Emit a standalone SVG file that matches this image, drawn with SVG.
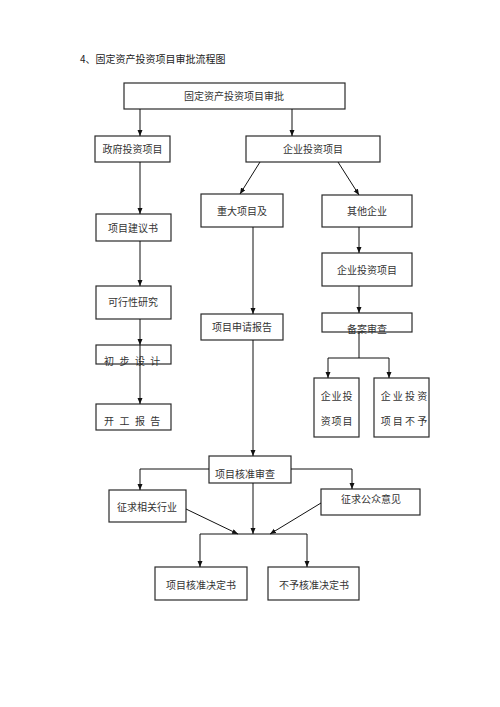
<svg xmlns="http://www.w3.org/2000/svg" width="500" height="707" viewBox="0 0 500 707">
<style>
.bg{fill:#ffffff}
.box{fill:#ffffff;stroke:#2a2a2a;stroke-width:1.2}
.t{font-family:"Noto Sans CJK SC","Liberation Sans",sans-serif;font-size:10px;fill:#333333;text-anchor:middle}
.title{font-family:"Noto Sans CJK SC","Liberation Sans",sans-serif;font-size:10px;fill:#222222}
.c{fill:none;stroke:#111111;stroke-width:1}
.a{fill:none;stroke:#111111;stroke-width:1;marker-end:url(#ah)}
</style>
<defs>
<marker id="ah" markerUnits="userSpaceOnUse" markerWidth="7" markerHeight="6" refX="6" refY="2.5" orient="auto">
<path d="M0,0 L6,2.5 L0,5 z" fill="#111111"/>
</marker>
</defs>
<rect class="bg" x="0" y="0" width="500" height="707"/>
<text class="title" x="80" y="62.5">4、固定资产投资项目审批流程图</text>

<g id="n-top"><rect class="box" x="124" y="83" width="221" height="26"/><text class="t" x="234" y="99.5">固定资产投资项目审批</text></g>
<g id="n-gov"><rect class="box" x="95" y="136" width="75" height="26"/><text class="t" x="132.5" y="152.5">政府投资项目</text></g>
<g id="n-ent"><rect class="box" x="246" y="136" width="134" height="26"/><text class="t" x="313" y="152.5">企业投资项目</text></g>
<g id="n-major"><rect class="box" x="201" y="194" width="82" height="33"/><text class="t" x="242" y="214.5">重大项目及</text></g>
<g id="n-other"><rect class="box" x="322" y="195" width="90" height="32"/><text class="t" x="367" y="214.5">其他企业</text></g>
<g id="n-proposal"><rect class="box" x="96" y="214" width="75" height="27"/><text class="t" x="133" y="231.5">项目建议书</text></g>
<g id="n-feas"><rect class="box" x="96" y="286" width="75" height="33"/><text class="t" x="133" y="306">可行性研究</text></g>
<g id="n-prelim"><rect class="box" x="96" y="345" width="75" height="19"/><text class="t" x="133" y="365" style="letter-spacing:1.6px">初 步 设 计</text></g>
<g id="n-start"><rect class="box" x="96" y="404" width="75" height="26"/><text class="t" x="133" y="424.5" style="letter-spacing:1.6px">开 工 报 告</text></g>
<g id="n-apply"><rect class="box" x="201" y="314" width="82" height="26"/><text class="t" x="242" y="330.5">项目申请报告</text></g>
<g id="n-ent2"><rect class="box" x="322" y="253" width="90" height="33"/><text class="t" x="367" y="273.5">企业投资项目</text></g>
<g id="n-record"><rect class="box" x="322" y="313" width="90" height="19"/><text class="t" x="367" y="333">备案审查</text></g>
<g id="n-entok"><rect class="box" x="314" y="378" width="45" height="59"/><text class="t" x="337" y="399.5" style="letter-spacing:0.8px">企业投</text><text class="t" x="337" y="424.5" style="letter-spacing:0.8px">资项目</text></g>
<g id="n-entno"><rect class="box" x="374" y="378" width="55" height="59"/><text class="t" x="404" y="399.5">企 业 投 资</text><text class="t" x="404" y="424.5">项 目 不 予</text></g>
<g id="n-review"><rect class="box" x="209" y="456" width="82" height="27"/><text class="t" x="245" y="477.5">项目核准审查</text></g>
<g id="n-industry"><rect class="box" x="109" y="490" width="77" height="32"/><text class="t" x="147" y="510.5">征求相关行业</text></g>
<g id="n-public"><rect class="box" x="321" y="489" width="99" height="26"/><text class="t" x="371" y="502.5">征求公众意见</text></g>
<g id="n-approve"><rect class="box" x="155" y="567" width="92" height="33"/><text class="t" x="201" y="588.5">项目核准决定书</text></g>
<g id="n-reject"><rect class="box" x="268" y="567" width="91" height="33"/><text class="t" x="314" y="588.5">不予核准决定书</text></g>

<g id="connectors">
<path class="a" d="M140,109 V136"/>
<path class="a" d="M292,109 V136"/>
<path class="a" d="M140,162 V214"/>
<path class="a" d="M260,162 L240,194"/>
<path class="a" d="M338,162 L359,195"/>
<path class="a" d="M140,241 V286"/>
<path class="a" d="M140,319 V345"/>
<path class="a" d="M140,345 V404"/>
<path class="a" d="M253,227 V314"/>
<path class="a" d="M253,340 V456"/>
<path class="a" d="M359,227 V253"/>
<path class="a" d="M359,286 V313"/>
<path class="c" d="M359,332 V358"/>
<path class="c" d="M328,358 H389"/>
<path class="a" d="M328,358 V378"/>
<path class="a" d="M389,358 V378"/>
<path class="a" d="M209,469 H140 V490"/>
<path class="a" d="M291,469 H352 V489"/>
<path class="a" d="M253,483 V534"/>
<path class="a" d="M186,509 L238,534"/>
<path class="a" d="M321,503 L270,534"/>
<path class="c" d="M200,534 H307"/>
<path class="a" d="M200,534 V567"/>
<path class="a" d="M307,534 V567"/>
</g>
</svg>
